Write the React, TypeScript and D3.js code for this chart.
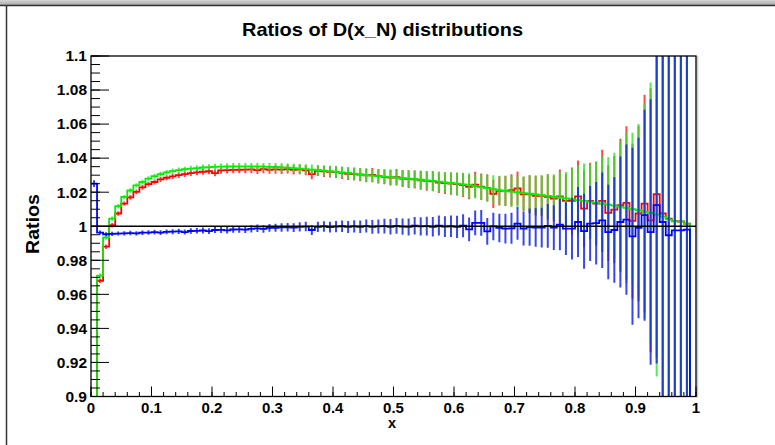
import * as d3 from 'd3';

// 100 bins of width 0.01 on [0, 1]
const nBins = 100;
const xRange = [0, 1];
const yRange = [0.9, 1.1];

const redRatio = [
  0.80, 0.968, 0.988, 1.0006, 1.0075, 1.0133, 1.0170, 1.0202, 1.0228, 1.0247,
  1.0260, 1.0275, 1.0285, 1.0293, 1.0300, 1.0306, 1.0312, 1.0316, 1.0320, 1.0323,
  1.0312, 1.0328, 1.0330, 1.0331, 1.0332, 1.0333, 1.0334, 1.0330, 1.0335, 1.0332,
  1.0334, 1.0333, 1.0336, 1.0331, 1.0334, 1.0328, 1.0306, 1.0326, 1.0322, 1.0320,
  1.0318, 1.0313, 1.0308, 1.0306, 1.0303, 1.0299, 1.0301, 1.0294, 1.0290, 1.0286,
  1.0289, 1.0280, 1.0277, 1.0275, 1.0270, 1.0266, 1.0264, 1.0256, 1.0253, 1.0250,
  1.0247, 1.0242, 1.0231, 1.0245, 1.0232, 1.0225, 1.0190, 1.0208, 1.0208, 1.0212,
  1.0222, 1.0188, 1.0188, 1.0178, 1.0178, 1.0173, 1.0163, 1.0176, 1.0149, 1.0149,
  1.0176, 1.0104, 1.0149, 1.0133, 1.0149, 1.0078, 1.0098, 1.0124, 1.0137, 1.0031,
  1.0075, 1.0133, 1.0035, 1.0188, 1.0075, 1.0045, 1.0030, 1.0028, 1.0016, 0,
];

const greenRatio = [
  0.80, 0.971, 0.9934, 1.0045, 1.0118, 1.0172, 1.0210, 1.0240, 1.0260, 1.0280,
  1.0294, 1.0306, 1.0316, 1.0324, 1.0330, 1.0335, 1.0339, 1.0342, 1.0345, 1.0347,
  1.0349, 1.0350, 1.0351, 1.0352, 1.0352, 1.0352, 1.0351, 1.0351, 1.0350, 1.0349,
  1.0348, 1.0346, 1.0344, 1.0342, 1.0339, 1.0336, 1.0333, 1.0330, 1.0327, 1.0324,
  1.0320, 1.0317, 1.0313, 1.0309, 1.0305, 1.0300, 1.0297, 1.0294, 1.0291, 1.0288,
  1.0285, 1.0282, 1.0279, 1.0276, 1.0273, 1.0269, 1.0266, 1.0262, 1.0258, 1.0254,
  1.0250, 1.0246, 1.0241, 1.0236, 1.0230, 1.0224, 1.0218, 1.0212, 1.0207, 1.0203,
  1.0199, 1.0195, 1.0191, 1.0187, 1.0183, 1.0178, 1.0174, 1.0169, 1.0164, 1.0159,
  1.0154, 1.0149, 1.0144, 1.0139, 1.0133, 1.0127, 1.0121, 1.0115, 1.0108, 1.0101,
  1.0094, 1.0086, 1.0078, 1.0068, 1.0057, 1.0040, 1.0029, 1.0029, 1.0016, 0,
];

const blueRatio = [
  1.0250, 0.9963, 0.9953, 0.9955, 0.9957, 0.9958, 0.9960, 0.9958, 0.9962, 0.9963,
  0.9965, 0.9962, 0.9967, 0.9968, 0.9970, 0.9966, 0.9972, 0.9973, 0.9975, 0.9971,
  0.9978, 0.9979, 0.9976, 0.9981, 0.9982, 0.9980, 0.9985, 0.9988, 0.9984, 0.9990,
  0.9991, 0.9993, 0.9994, 0.9992, 0.9996, 0.9998, 0.9978, 0.9996, 0.9999, 0.9995,
  0.9998, 1.0000, 0.9996, 0.9999, 0.9997, 1.0001, 0.9996, 0.9999, 1.0001, 0.9997,
  1.0002, 0.9998, 0.9996, 1.0003, 0.9999, 1.0001, 0.9997, 1.0004, 0.9998, 1.0000,
  0.9996, 1.0003, 0.9982, 1.0020, 1.0020, 0.9970, 0.9999, 0.9990, 0.9986, 0.9988,
  1.0016, 0.9986, 0.9995, 0.9992, 0.9992, 1.0002, 0.9992, 1.0010, 0.9986, 0.9986,
  1.0025, 0.9971, 1.0016, 1.0018, 1.0035, 0.9966, 0.9978, 1.0025, 1.0039, 0.9941,
  0.9990, 1.0065, 0.9966, 1.0124, 1.0025, 0.9947, 0.9976, 0.9976, 0.9980, 0,
];

const greenErr = [
  0, 0.0012, 0.0012, 0.0012, 0.0012, 0.0012, 0.0013, 0.0013, 0.0013, 0.0013,
  0.0014, 0.0014, 0.0014, 0.0015, 0.0015, 0.0015, 0.0016, 0.0016, 0.0017, 0.0017,
  0.0018, 0.0018, 0.0019, 0.0019, 0.0020, 0.0020, 0.0021, 0.0022, 0.0022, 0.0023,
  0.0024, 0.0025, 0.0025, 0.0026, 0.0027, 0.0028, 0.0029, 0.0030, 0.0031, 0.0032,
  0.0033, 0.0034, 0.0035, 0.0036, 0.0037, 0.0038, 0.0040, 0.0041, 0.0043, 0.0045,
  0.0046, 0.0048, 0.0050, 0.0052, 0.0054, 0.0055, 0.0057, 0.0059, 0.0061, 0.0063,
  0.0065, 0.0068, 0.0070, 0.0073, 0.0076, 0.0078, 0.0081, 0.0084, 0.0087, 0.0091,
  0.0095, 0.0099, 0.0109, 0.0113, 0.0117, 0.0128, 0.0132, 0.0151, 0.0155, 0.0181,
  0.0205, 0.0220, 0.0220, 0.0242, 0.0280, 0.0278, 0.0310, 0.0385, 0.0441, 0.0448,
  0.0507, 0.0630, 0.0767, 0.0950, 0.1300, 0.1600, 0.2000, 0.2500, 0.3000, 0,
];

const redErr = [
  0, 0.0013, 0.0013, 0.0013, 0.0013, 0.0013, 0.0014, 0.0014, 0.0014, 0.0014,
  0.0015, 0.0015, 0.0015, 0.0016, 0.0016, 0.0016, 0.0017, 0.0017, 0.0018, 0.0018,
  0.0019, 0.0019, 0.0020, 0.0020, 0.0021, 0.0021, 0.0022, 0.0023, 0.0023, 0.0024,
  0.0025, 0.0026, 0.0026, 0.0027, 0.0028, 0.0029, 0.0030, 0.0031, 0.0032, 0.0033,
  0.0034, 0.0035, 0.0036, 0.0037, 0.0038, 0.0040, 0.0041, 0.0043, 0.0044, 0.0046,
  0.0048, 0.0050, 0.0052, 0.0053, 0.0055, 0.0057, 0.0059, 0.0061, 0.0063, 0.0065,
  0.0067, 0.0070, 0.0072, 0.0075, 0.0078, 0.0080, 0.0083, 0.0086, 0.0089, 0.0093,
  0.0100, 0.0101, 0.0111, 0.0115, 0.0119, 0.0133, 0.0134, 0.0158, 0.0157, 0.0196,
  0.0210, 0.0225, 0.0224, 0.0246, 0.0300, 0.0282, 0.0315, 0.0390, 0.0450, 0.0455,
  0.0515, 0.0640, 0.0775, 0.0960, 0.1300, 0.1600, 0.2000, 0.2500, 0.3000, 0,
];

const blueErr = [
  0.0020, 0.0012, 0.0012, 0.0012, 0.0012, 0.0012, 0.0013, 0.0013, 0.0013, 0.0013,
  0.0014, 0.0014, 0.0014, 0.0015, 0.0015, 0.0015, 0.0016, 0.0016, 0.0017, 0.0017,
  0.0018, 0.0018, 0.0019, 0.0019, 0.0020, 0.0020, 0.0021, 0.0022, 0.0022, 0.0023,
  0.0024, 0.0025, 0.0025, 0.0026, 0.0027, 0.0028, 0.0029, 0.0030, 0.0031, 0.0032,
  0.0033, 0.0034, 0.0035, 0.0036, 0.0037, 0.0038, 0.0040, 0.0041, 0.0043, 0.0045,
  0.0046, 0.0048, 0.0050, 0.0052, 0.0054, 0.0055, 0.0057, 0.0059, 0.0061, 0.0063,
  0.0065, 0.0068, 0.0070, 0.0073, 0.0076, 0.0078, 0.0081, 0.0084, 0.0087, 0.0091,
  0.0095, 0.0099, 0.0109, 0.0113, 0.0117, 0.0128, 0.0132, 0.0151, 0.0155, 0.0181,
  0.0205, 0.0220, 0.0220, 0.0242, 0.0280, 0.0278, 0.0310, 0.0385, 0.0441, 0.0520,
  0.0530, 0.0620, 0.0780, 0.0930, 0.1400, 0.1700, 0.2100, 0.2600, 0.3100, 0,
];

const yTickLabels = ['0.9', '0.92', '0.94', '0.96', '0.98', '1', '1.02', '1.04', '1.06', '1.08', '1.1'];
const xTickLabels = ['0', '0.1', '0.2', '0.3', '0.4', '0.5', '0.6', '0.7', '0.8', '0.9', '1'];

const series = [
  { name: 'red', values: redRatio, errs: redErr, color: '#ff0000', barColor: 'rgba(255,40,40,0.85)' },
  { name: 'green', values: greenRatio, errs: greenErr, color: '#00ee00', barColor: 'rgba(40,230,40,0.8)' },
  { name: 'blue', values: blueRatio, errs: blueErr, color: '#0000ff', barColor: 'rgba(20,40,230,0.85)' },
];

const font = '"Liberation Sans", Arial, Helvetica, sans-serif';

export default function App() {
  const W = 775;
  const H = 445;
  const frame = { left: 91, right: 696, top: 56, bottom: 396.5 };

  const x = d3.scaleLinear().domain(xRange).range([frame.left, frame.right]);
  const y = d3.scaleLinear().domain(yRange).range([frame.bottom, frame.top]);
  const binW = (xRange[1] - xRange[0]) / nBins;
  const edge = (i: number) => xRange[0] + i * binW;

  const stepLine = d3.line<[number, number]>().x(d => x(d[0])).y(d => y(d[1]));
  const stepPoints = (vals: number[]) => {
    const pts: [number, number][] = [];
    vals.forEach((v, i) => {
      pts.push([edge(i), v]);
      pts.push([edge(i + 1), v]);
    });
    return pts;
  };

  const yMajor = d3.range(0, 11).map(i => yRange[0] + i * 0.02);
  const yMinor = d3.range(0, 41).map(i => yRange[0] + i * 0.005);
  const xMajor = d3.range(0, 11).map(i => i * 0.1);
  const xMinor = d3.range(0, 51).map(i => i * 0.02);

  return (
    <svg width={W} height={H} style={{ position: 'absolute', left: 0, top: 0, background: '#fff' }}>
      <defs>
        <linearGradient id="topbar" x1="0" y1="0" x2="0" y2="1">
          <stop offset="0" stopColor="#d6d6d6" />
          <stop offset="1" stopColor="#a8a8a8" />
        </linearGradient>
        <clipPath id="frameClip">
          <rect x={frame.left} y={frame.top} width={frame.right - frame.left} height={frame.bottom - frame.top} />
        </clipPath>
      </defs>

      {/* canvas chrome */}
      <rect x={0} y={0} width={W} height={H} fill="#fff" />
      <rect x={0} y={0} width={W} height={5} fill="url(#topbar)" />
      <line x1={0} x2={W} y1={5.5} y2={5.5} stroke="#333" strokeWidth={1.5} />
      <line x1={6.5} x2={6.5} y1={5} y2={H} stroke="#333" strokeWidth={1.5} />

      {/* title */}
      <text x={382.5} y={36} textAnchor="middle" fontFamily={font} fontWeight="bold" fontSize={18.5}
        textLength={281} lengthAdjust="spacingAndGlyphs">
        Ratios of D(x_N) distributions
      </text>

      {/* data */}
      <g clipPath="url(#frameClip)">
        {series.map(s => (
          <g key={s.name}>
            {s.values.map((v, i) =>
              v > 0 && s.errs[i] > 0 ? (
                <line
                  key={i}
                  x1={x(edge(i) + binW / 2)}
                  x2={x(edge(i) + binW / 2)}
                  y1={y(v - s.errs[i])}
                  y2={y(v + s.errs[i])}
                  stroke={s.barColor}
                  strokeWidth={2}
                />
              ) : null
            )}
            <path d={stepLine(stepPoints(s.values)) || ''} fill="none" stroke={s.color} strokeWidth={1.8} />
          </g>
        ))}
        <line x1={x(0)} x2={x(1)} y1={y(1)} y2={y(1)} stroke="#000" strokeWidth={1.5} />
      </g>

      {/* frame */}
      <line x1={frame.right + 1.5} x2={frame.right + 1.5} y1={frame.top} y2={frame.bottom + 1} stroke="#c8c8c8" strokeWidth={1.5} />
      <rect x={frame.left} y={frame.top} width={frame.right - frame.left} height={frame.bottom - frame.top}
        fill="none" stroke="#000" strokeWidth={1.3} />

      {/* y axis ticks */}
      {yMinor.map((t, i) => (
        <line key={'ym' + i} x1={frame.left} x2={frame.left + 9} y1={y(t)} y2={y(t)} stroke="#000" strokeWidth={1} />
      ))}
      {yMajor.map((t, i) => (
        <g key={'yM' + i}>
          <line x1={frame.left} x2={frame.left + 18} y1={y(t)} y2={y(t)} stroke="#000" strokeWidth={1} />
          <text x={frame.left - 4} y={y(t) + 5.3} textAnchor="end" fontFamily={font} fontWeight="bold" fontSize={15.5}>
            {yTickLabels[i]}
          </text>
        </g>
      ))}

      {/* x axis ticks */}
      {xMinor.map((t, i) => (
        <line key={'xm' + i} x1={x(t)} x2={x(t)} y1={frame.bottom} y2={frame.bottom - 4.5} stroke="#000" strokeWidth={1} />
      ))}
      {xMajor.map((t, i) => (
        <g key={'xM' + i}>
          <line x1={x(t)} x2={x(t)} y1={frame.bottom} y2={frame.bottom - 10} stroke="#000" strokeWidth={1} />
          <text x={x(t)} y={412.5} textAnchor="middle" fontFamily={font} fontWeight="bold" fontSize={15}>
            {xTickLabels[i]}
          </text>
        </g>
      ))}

      {/* axis titles */}
      <text x={392} y={428} textAnchor="middle" fontFamily={font} fontWeight="bold" fontSize={14.5}>x</text>
      <text transform="translate(39,224) rotate(-90)" textAnchor="middle" fontFamily={font} fontWeight="bold" fontSize={18}
        textLength={60} lengthAdjust="spacingAndGlyphs">
        Ratios
      </text>
    </svg>
  );
}
